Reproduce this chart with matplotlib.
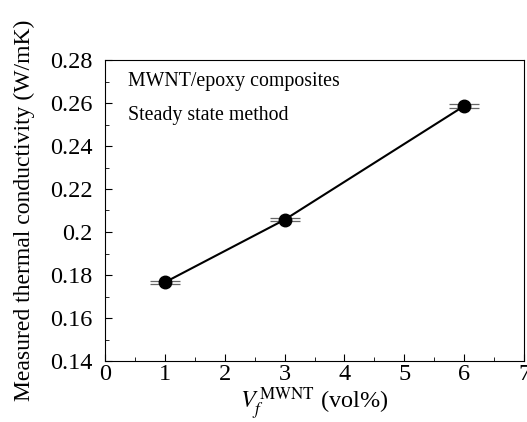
import matplotlib
matplotlib.use("Agg")
from matplotlib import pyplot as plt
from matplotlib.ticker import MultipleLocator

vol = [1, 3, 6]
conductivity = [0.1766, 0.2057, 0.2586]
cond_err = [0.0008, 0.0008, 0.0008]

plt.rcParams['font.family'] = ['Liberation Serif', 'DejaVu Serif']
plt.rcParams['mathtext.fontset'] = 'stix'
plt.rcParams['font.size'] = 11

fig = plt.figure(figsize=(5.27, 4.22), dpi=100)
ax = fig.add_axes([105 / 527, 1 - 361 / 422, 419 / 527, 301 / 422])

ax.errorbar(vol, conductivity, yerr=cond_err, fmt='none', ecolor='#666666',
            elinewidth=0.8, capsize=11, capthick=0.9, zorder=2)
ax.plot(vol, conductivity, '-o', color='black', lw=1.5, markersize=9, zorder=3)

ax.set_xlim(0, 7)
ax.set_ylim(0.14, 0.28)
ax.xaxis.set_major_locator(MultipleLocator(1))
ax.xaxis.set_minor_locator(MultipleLocator(0.5))
ax.set_yticks([0.14, 0.16, 0.18, 0.2, 0.22, 0.24, 0.26, 0.28])
ax.set_yticklabels(['0.14', '0.16', '0.18', '0.2', '0.22', '0.24', '0.26', '0.28'])
ax.yaxis.set_minor_locator(MultipleLocator(0.01))
ax.tick_params(which='both', direction='in', top=False, right=False, labelsize=17.5)
ax.tick_params(which='major', length=5)
ax.tick_params(axis='y', which='major', pad=9)
ax.tick_params(axis='x', which='major', pad=2)
ax.tick_params(which='minor', length=3)

ax.set_xlabel(r'$V_f^{\,\mathrm{MWNT}}$ (vol%)', fontsize=17.5, labelpad=0.5)
ax.set_ylabel('Measured thermal conductivity (W/mK)', fontsize=17, labelpad=11)

ax.text(0.055, 0.93, 'MWNT/epoxy composites', transform=ax.transAxes, fontsize=14.3, va='center')
ax.text(0.055, 0.815, 'Steady state method', transform=ax.transAxes, fontsize=14.3, va='center')

fig.savefig('out.png', dpi=100)
